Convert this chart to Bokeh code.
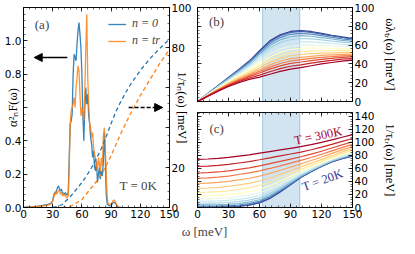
import numpy as np
from bokeh.plotting import figure
from bokeh.models import (Range1d, LinearAxis, SingleIntervalTicker, CustomJSTickFormatter,
                          BoxAnnotation, Arrow, NormalHead, Label, Legend, LegendItem)
from bokeh.layouts import row, column
from bokeh.embed import file_html
from bokeh.resources import INLINE

# ---------------- data: panel (a) ----------------
a2f_n0_w = [0, 5, 10, 15, 20, 25, 28, 30, 31, 32, 33, 34, 35, 36, 37, 38, 39, 40, 41, 42, 43, 44, 45, 46,
            47, 48, 49, 50, 51, 52, 53, 54, 55, 56, 57, 58, 59, 60, 61, 62, 63, 64, 65, 66, 67, 68, 69,
            70, 71, 72, 73, 74, 75, 76, 77, 78, 79, 80, 81, 82, 83, 84, 85, 86, 88, 90, 92, 94, 96, 98, 100]
a2f_n0 = [0, 0.003, 0.005, 0.008, 0.012, 0.018, 0.025, 0.04, 0.07, 0.09, 0.08, 0.10, 0.12, 0.13, 0.11, 0.10,
          0.11, 0.09, 0.085, 0.08, 0.09, 0.08, 0.075, 0.09, 0.30, 0.50, 0.52, 0.56, 0.80, 0.92, 0.90, 0.88,
          0.98, 1.06, 1.11, 1.04, 0.96, 0.80, 0.55, 0.40, 0.60, 0.72, 0.62, 0.68, 0.55, 0.50, 0.42, 0.38,
          0.30, 0.34, 0.24, 0.22, 0.28, 0.15, 0.20, 0.24, 0.17, 0.22, 0.19, 0.27, 0.45, 0.30, 0.08, 0.02,
          0.01, 0.01, 0.03, 0.03, 0.01, 0.0, 0.0]
a2f_tr_w = [0, 5, 10, 15, 20, 25, 28, 30, 31, 32, 33, 34, 35, 36, 37, 38, 39, 40, 41, 42, 43, 44, 45, 46,
            47, 48, 49, 50, 51, 52, 53, 54, 55, 56, 57, 58, 59, 60, 61, 62, 63, 64, 65, 66, 67, 68, 69,
            70, 71, 72, 73, 74, 75, 76, 77, 78, 79, 80, 81, 82, 83, 84, 85, 86, 87, 88, 90, 92, 93, 94,
            96, 98, 100]
a2f_tr = [0, 0.002, 0.004, 0.006, 0.01, 0.015, 0.02, 0.04, 0.06, 0.08, 0.10, 0.08, 0.09, 0.10, 0.10, 0.08,
          0.09, 0.07, 0.08, 0.07, 0.08, 0.06, 0.06, 0.07, 0.25, 0.50, 0.58, 0.60, 0.62, 0.66, 0.60, 0.72,
          0.78, 0.85, 0.82, 0.68, 0.55, 0.60, 0.57, 0.52, 0.70, 0.95, 1.16, 0.78, 0.62, 0.50, 0.48, 0.42,
          0.45, 0.36, 0.32, 0.30, 0.25, 0.22, 0.30, 0.26, 0.22, 0.30, 0.25, 0.42, 0.48, 0.38, 0.20, 0.06,
          0.02, 0.02, 0.02, 0.04, 0.045, 0.04, 0.01, 0.0, 0.0]

inv_tau_n0_w = [30, 35, 40, 45, 50, 55, 60, 65, 70, 75, 80, 85, 90, 95, 100, 105, 110, 115, 120, 125,
                130, 135, 140, 145, 150]
inv_tau_n0 = [0, 0.5, 1.5, 4, 6.5, 9.5, 12.5, 16, 20, 24.5, 29.5, 35.5, 42, 48, 53, 57.5, 61.5, 65, 68.5,
              71.5, 74.5, 77, 79.5, 82, 84]
inv_tau_tr_w = [40, 45, 50, 55, 60, 65, 70, 75, 80, 85, 90, 95, 100, 105, 110, 115, 120, 125, 130, 135,
                140, 145, 150]
inv_tau_tr = [0, 0.3, 1, 2.5, 4, 7, 10, 13, 16.5, 21, 26, 31.5, 37, 42, 47, 51.5, 56, 60, 64, 68, 72,
              75.5, 79]

# ---------------- data: panels (b), (c) ----------------
omega = [0, 10, 20, 30, 40, 50, 60, 70, 80, 90, 100, 110, 120, 130, 140, 150]
temperatures = [20, 40, 60, 80, 100, 120, 140, 160, 180, 200, 220, 240, 260, 280, 300]

omega_lambda_tr = [
    [0, 8.5, 17, 25.5, 34, 43, 54, 64.5, 71, 74.5, 75.5, 74.5, 72.5, 70.5, 68.7, 67],
    [0, 8.4, 16.9, 25.3, 33.7, 42.5, 53.3, 63.6, 70, 73.5, 74.5, 73.6, 71.7, 69.8, 68.1, 66.4],
    [0, 8.3, 16.5, 24.8, 32.9, 41.5, 51.9, 61.8, 68, 71.5, 72.5, 71.7, 70, 68.3, 66.7, 65.3],
    [0, 8.1, 16.2, 24.2, 32.1, 40.3, 50.1, 59.6, 65.6, 68.9, 70, 69.4, 68, 66.5, 65.1, 63.8],
    [0, 7.9, 15.7, 23.5, 31, 38.8, 48, 56.9, 62.6, 65.9, 67, 66.7, 65.5, 64.3, 63.2, 62.1],
    [0, 7.6, 15.2, 22.6, 29.7, 37.1, 45.5, 53.7, 59.1, 62.3, 63.5, 63.4, 62.6, 61.7, 60.9, 60],
    [0, 7.3, 14.6, 21.8, 28.5, 35.4, 43, 50.6, 55.7, 58.8, 60, 60.2, 59.8, 59.1, 58.6, 58],
    [0, 7.1, 14.1, 20.9, 27.3, 33.6, 40.5, 47.4, 52.2, 55.3, 56.5, 56.9, 56.9, 56.6, 56.3, 55.9],
    [0, 6.8, 13.6, 20.1, 26, 31.9, 38, 44.3, 48.8, 51.7, 53, 53.7, 54, 54, 54.1, 53.9],
    [0, 6.6, 13.1, 19.4, 25, 30.4, 35.9, 41.6, 45.8, 48.7, 50, 50.9, 51.5, 51.8, 52.1, 52.1],
    [0, 6.3, 12.7, 18.6, 23.9, 28.9, 33.8, 38.9, 42.8, 45.6, 47, 48.1, 49, 49.6, 50.1, 50.4],
    [0, 6.1, 12.3, 18, 23, 27.7, 32, 36.6, 40.4, 43.1, 44.5, 45.8, 47, 47.7, 48.5, 48.9],
    [0, 6, 11.9, 17.4, 22.1, 26.5, 30.3, 34.4, 37.9, 40.6, 42, 43.5, 44.9, 45.9, 46.9, 47.5],
    [0, 5.7, 11.5, 16.7, 21.1, 25, 28.1, 31.7, 35, 37.5, 39, 40.8, 42.5, 43.7, 45, 45.7],
    [0, 5.5, 11, 16, 20, 23.5, 26, 29, 32, 34.5, 36, 38, 40, 41.5, 43, 44],
]

inv_tau_tr_T = [
    [0.3, 0.3, 0.4, 0.6, 1.5, 3.5, 7, 14, 24, 35, 46, 55, 63, 70, 75, 79],
    [1, 1, 1.2, 1.4, 2.3, 4.5, 7.9, 14.9, 24.8, 35.7, 46.6, 55.5, 63.5, 70.5, 75.5, 79.6],
    [2.2, 2.3, 2.4, 2.8, 3.8, 5.9, 9.5, 16.3, 26, 36.6, 47.3, 56.1, 64, 71, 76.1, 80.3],
    [4, 4.1, 4.4, 4.9, 6.1, 8.2, 11.9, 18.5, 27.8, 38, 48.2, 56.7, 64.5, 71.5, 76.7, 81],
    [6.5, 6.7, 7, 7.7, 9.1, 11.3, 14.9, 21.4, 30.2, 39.9, 49.5, 57.8, 65.3, 72.2, 77.5, 82],
    [9.5, 9.7, 10.2, 11, 12.6, 14.9, 18.5, 24.7, 33, 42, 51, 58.8, 66.2, 73, 78.4, 83],
    [13, 13.3, 13.9, 14.9, 16.6, 19.1, 22.7, 28.6, 36.3, 44.7, 53, 60.4, 67.5, 74.2, 79.6, 84.5],
    [17.5, 17.8, 18.6, 19.8, 21.7, 24.2, 27.8, 33.3, 40.3, 47.8, 55.4, 62.3, 69, 75.5, 81, 86],
    [23, 23.5, 24.3, 25.7, 27.8, 30.3, 33.9, 38.9, 45.2, 51.9, 58.6, 64.9, 71.2, 77.5, 82.9, 88],
    [29.5, 30, 31, 32.5, 34.7, 37.2, 40.7, 45.3, 50.9, 56.6, 62.4, 68.1, 74, 80, 85.4, 90.5],
    [37, 37.5, 38.6, 40.2, 42.5, 45, 48.3, 52.4, 57.2, 62.1, 67.1, 72.2, 77.6, 83.2, 88.5, 93.5],
    [45, 45.5, 46.6, 48.3, 50.7, 53.1, 56.3, 60, 64, 68.2, 72.4, 76.9, 81.8, 87, 92.1, 97],
    [53, 53.5, 54.6, 56.4, 58.7, 61, 64, 67.4, 70.9, 74.4, 78, 82, 86.5, 91.4, 96.2, 101],
    [63, 63.5, 64.6, 66.2, 68.4, 70.6, 73.4, 76.3, 79.3, 82.2, 85.2, 88.7, 92.7, 97.1, 101.6, 106],
    [74, 74.5, 75.5, 77, 79, 81, 83.5, 86, 88.5, 91, 93.5, 96.5, 100, 104, 108, 112],
]

band = (63, 99)  # shaded frequency window

# ---------------- styling helpers ----------------
TICK_FONT = "DejaVu Sans"
TICK_SIZE = "10.5px"
LABEL_FONT = "Liberation Serif"
LABEL_SIZE = "12.5px"
BLUE, ORANGE = "#1f77b4", "#ff7f0e"

anchors = ['#313695', '#4575b4', '#74add1', '#abd9e9', '#e0f3f8', '#ffffbf',
           '#fee090', '#fdae61', '#f46d43', '#d73027', '#a50026']


def interp_colors(cols, n):
    rgb = [tuple(int(c[i:i + 2], 16) for i in (1, 3, 5)) for c in cols]
    out = []
    for k in range(n):
        t = k / (n - 1) * (len(rgb) - 1)
        i = min(int(t), len(rgb) - 2)
        f = t - i
        c = [round(rgb[i][j] * (1 - f) + rgb[i + 1][j] * f) for j in range(3)]
        out.append("#%02x%02x%02x" % tuple(c))
    return out


curve_colors = interp_colors(anchors, len(temperatures))


def style_axis(ax, labels=True):
    ax.major_tick_in = 4
    ax.major_tick_out = 0
    ax.minor_tick_in = 2
    ax.minor_tick_out = 0
    ax.axis_line_color = "black"
    ax.axis_line_width = 0.8
    ax.major_tick_line_width = 0.8
    ax.minor_tick_line_width = 0.6
    ax.major_label_text_font = TICK_FONT
    ax.major_label_text_font_size = TICK_SIZE
    ax.major_label_text_color = "black"
    ax.major_label_standoff = 2
    ax.axis_label_text_font = LABEL_FONT
    ax.axis_label_text_font_size = LABEL_SIZE
    ax.axis_label_text_font_style = "normal"
    ax.axis_label_text_color = "black"
    if not labels:
        ax.formatter = CustomJSTickFormatter(code="return ''")
    return ax


def base_fig(w, h, yr, mb):
    p = figure(width=w, height=h, x_range=Range1d(0, 150), y_range=Range1d(*yr),
               x_axis_type=None, y_axis_type=None, toolbar_location=None, output_backend="svg",
               min_border_left=mb[0], min_border_right=mb[1], min_border_top=mb[2],
               min_border_bottom=mb[3])
    p.outline_line_color = "black"
    p.outline_line_width = 0.8
    p.background_fill_color = "white"
    p.border_fill_color = "white"
    return p


# ---------------- panel (a) ----------------
pA = base_fig(192, 223, (0, 1.2), (23, 23, 7, 16))
pA.extra_y_ranges = {"tau": Range1d(0, 100)}

xt = lambda: SingleIntervalTicker(interval=30, num_minor_ticks=5)
pA.add_layout(style_axis(LinearAxis(ticker=xt())), "below")
pA.add_layout(style_axis(LinearAxis(ticker=xt()), labels=False), "above")

yl = style_axis(LinearAxis(ticker=SingleIntervalTicker(interval=0.2, num_minor_ticks=5),
                           formatter=CustomJSTickFormatter(
                               code="return Math.abs(tick-0.6)<1e-6 ? '' : tick.toFixed(1)"),
                           axis_label="α²ₙF(ω)"))
yl.axis_label_standoff = -18
pA.add_layout(yl, "left")

yr = style_axis(LinearAxis(y_range_name="tau", ticker=SingleIntervalTicker(interval=20, num_minor_ticks=5),
                           formatter=CustomJSTickFormatter(
                               code="return (Math.abs(tick-40)<1e-6 || Math.abs(tick-60)<1e-6) ? '' : tick.toFixed(0)"),
                           axis_label="1/τₙ(ω) [meV]"))
yr.axis_label_standoff = -20
pA.add_layout(yr, "right")

rb = pA.line(a2f_n0_w, a2f_n0, line_color=BLUE, line_width=1.3, line_alpha=0.9)
ro = pA.line(a2f_tr_w, a2f_tr, line_color=ORANGE, line_width=1.3, line_alpha=0.85)
pA.line(inv_tau_n0_w, inv_tau_n0, y_range_name="tau", line_color=BLUE, line_width=1.3, line_dash="4 3")
pA.line(inv_tau_tr_w, inv_tau_tr, y_range_name="tau", line_color=ORANGE, line_width=1.3, line_dash="4 3")

leg = Legend(items=[LegendItem(label="n = 0", renderers=[rb]), LegendItem(label="n = tr", renderers=[ro])],
             location="top_right", border_line_alpha=0, background_fill_alpha=0,
             label_text_font=LABEL_FONT, label_text_font_size="12px", label_text_font_style="italic",
             glyph_width=18, glyph_height=12, label_standoff=6, spacing=2, padding=3, margin=6)
pA.add_layout(leg)

pA.add_layout(Arrow(end=NormalHead(size=8, fill_color="black", line_color="black"),
                    x_start=45, y_start=0.9, x_end=11, y_end=0.9, line_width=1.6, line_color="black"))
pA.add_layout(Arrow(end=NormalHead(size=8, fill_color="black", line_color="black"),
                    x_start=108, y_start=0.6, x_end=143, y_end=0.6, line_width=1.6, line_color="black",
                    line_dash="4 2"))
pA.add_layout(Label(x=19, y=1.1, text="(a)", text_font=LABEL_FONT, text_font_size="13px",
                    text_align="center", text_baseline="middle"))
pA.add_layout(Label(x=118, y=0.13, text="T = 0K", text_font=LABEL_FONT, text_font_size="13px",
                    text_align="center", text_baseline="middle"))

# ---------------- panel (b) ----------------
pB = base_fig(207, 107, (0, 100), (5, 45, 7, 6))
pB.add_layout(style_axis(LinearAxis(ticker=xt()), labels=False), "below")
pB.add_layout(style_axis(LinearAxis(ticker=xt()), labels=False), "above")
pB.add_layout(style_axis(LinearAxis(ticker=SingleIntervalTicker(interval=20, num_minor_ticks=5)),
                         labels=False), "left")
ybr = style_axis(LinearAxis(ticker=SingleIntervalTicker(interval=20, num_minor_ticks=5),
                            axis_label="ωλₜᵣ(ω) [meV]"))
ybr.axis_label_standoff = 5
pB.add_layout(ybr, "right")
pB.add_layout(BoxAnnotation(left=band[0], right=band[1], fill_color=BLUE, fill_alpha=0.2,
                            line_color=BLUE, line_alpha=0.35, line_width=1, level="underlay"))
for vals, col in zip(omega_lambda_tr, curve_colors):
    pB.line(omega, vals, line_color=col, line_width=1.2)
pB.add_layout(Label(x=18.5, y=85, text="(b)", text_font=LABEL_FONT, text_font_size="13px",
                    text_align="center", text_baseline="middle"))

# ---------------- panel (c) ----------------
pC = base_fig(207, 116, (0, 146), (5, 45, 5, 16))
pC.add_layout(style_axis(LinearAxis(ticker=xt())), "below")
pC.add_layout(style_axis(LinearAxis(ticker=xt()), labels=False), "above")
pC.add_layout(style_axis(LinearAxis(ticker=SingleIntervalTicker(interval=20, num_minor_ticks=5)),
                         labels=False), "left")
ycr = style_axis(LinearAxis(ticker=SingleIntervalTicker(interval=20, num_minor_ticks=5),
                            axis_label="1/τₜᵣ(ω) [meV]"))
ycr.axis_label_standoff = 5
pC.add_layout(ycr, "right")
pC.add_layout(BoxAnnotation(left=band[0], right=band[1], fill_color=BLUE, fill_alpha=0.2,
                            line_color=BLUE, line_alpha=0.35, line_width=1, level="underlay"))
for vals, col in zip(inv_tau_tr_T, curve_colors):
    pC.line(omega, vals, line_color=col, line_width=1.2)
pC.add_layout(Label(x=18.5, y=122, text="(c)", text_font=LABEL_FONT, text_font_size="13px",
                    text_align="center", text_baseline="middle"))
pC.add_layout(Label(x=117, y=110, text="T = 300K", text_font=LABEL_FONT, text_font_size="12.5px",
                    text_color=curve_colors[-1], angle=0.2, text_align="center", text_baseline="middle"))
pC.add_layout(Label(x=121, y=42, text="T = 20K", text_font=LABEL_FONT, text_font_size="12.5px",
                    text_color=curve_colors[0], angle=0.35, text_align="center", text_baseline="middle"))

# ---------------- shared x label ----------------
pL = figure(width=399, height=15, x_range=Range1d(0, 399), y_range=Range1d(0, 15),
            x_axis_type=None, y_axis_type=None, toolbar_location=None, output_backend="svg",
            min_border=0)
pL.outline_line_color = None
pL.add_layout(Label(x=204, y=7.5, text="ω [meV]", text_font=LABEL_FONT, text_font_size="13px",
                    text_align="center", text_baseline="middle"))

layout = column(row(pA, column(pB, pC)), pL)

with open("out.html", "w") as f:
    f.write(file_html(layout, INLINE))
